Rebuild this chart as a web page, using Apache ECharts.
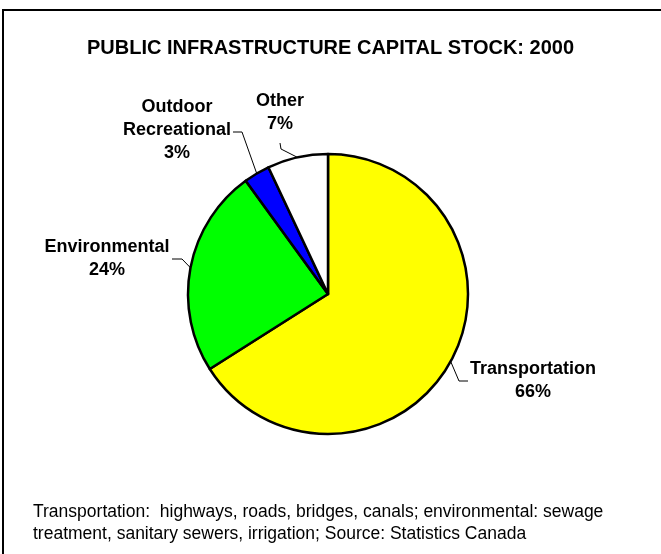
<!DOCTYPE html>
<html>
<head>
<meta charset="utf-8">
<script src="https://cdn.jsdelivr.net/npm/echarts@6/dist/echarts.min.js"></script>
<style>
  html, body { margin: 0; padding: 0; background: #ffffff; }
  #chart { width: 661px; height: 554px; }
</style>
</head>
<body>
<div id="chart"></div>
<script>
// Share of public infrastructure capital stock by asset type, 2000 (per cent)
const categories = ['Transportation', 'Environmental', 'Outdoor\nRecreational', 'Other'];
const shares = [66, 24, 3, 7];
const sliceColors = ['#ffff00', '#00ff00', '#0000ff', '#ffffff'];

const titleText = 'PUBLIC INFRASTRUCTURE CAPITAL STOCK: 2000';
const noteText = 'Transportation:  highways, roads, bridges, canals; environmental: sewage\n' +
                 'treatment, sanitary sewers, irrigation; Source: Statistics Canada';

// Pie geometry (pixels)
const PIE_CENTER = [328, 294];
const PIE_RADIUS = 140;

// Label block centre, leader-line elbow and leader-line end,
// given as offsets from the pie centre
const labelPlacement = [
  { label: [205, 87],    elbow: [131, 87],    end: [140, 87] },
  { label: [-221, -35],  elbow: [-146, -35],  end: [-156, -35] },
  { label: [-151, -164], elbow: [-86, -162],  end: [-95, -162] },
  { label: [-48, -181],  elbow: [-47, -145],  end: [-48, -151] }
];

// Mid-angle edge point of a slice, used if the library gives no line points
function sliceEdgeMid(index) {
  const total = shares.reduce((a, b) => a + b, 0);
  let before = 0;
  for (let i = 0; i < index; i++) before += shares[i];
  const frac = (before + shares[index] / 2) / total;
  const ang = frac * Math.PI * 2;
  return [PIE_CENTER[0] + PIE_RADIUS * Math.sin(ang), PIE_CENTER[1] - PIE_RADIUS * Math.cos(ang)];
}

const chart = echarts.init(document.getElementById('chart'), null, { renderer: 'canvas' });

chart.setOption({
  animation: false,
  backgroundColor: '#ffffff',
  title: [
    {
      text: titleText,
      left: 'center',
      top: 33,
      textStyle: {
        fontFamily: 'Liberation Sans',
        fontSize: 20,
        fontWeight: 'bold',
        color: '#000000'
      }
    },
    {
      text: noteText,
      left: 28,
      top: 496,
      textStyle: {
        fontFamily: 'Liberation Sans',
        fontSize: 17.5,
        fontWeight: 'normal',
        color: '#000000',
        lineHeight: 22
      }
    }
  ],
  graphic: [
    {
      type: 'rect',
      silent: true,
      shape: { x: 3, y: 10, width: 720, height: 620 },
      style: { fill: 'none', stroke: '#000000', lineWidth: 2 }
    }
  ],
  series: [
    {
      type: 'pie',
      center: PIE_CENTER,
      radius: PIE_RADIUS,
      startAngle: 90,
      clockwise: true,
      avoidLabelOverlap: false,
      data: categories.map((name, i) => ({
        name: name,
        value: shares[i],
        itemStyle: { color: sliceColors[i] }
      })),
      itemStyle: { borderColor: '#000000', borderWidth: 2.5 },
      emphasis: { disabled: true },
      label: {
        show: true,
        position: 'outside',
        formatter: '{b}\n{c}%',
        fontFamily: 'Liberation Sans',
        fontSize: 18,
        fontWeight: 'bold',
        color: '#000000',
        lineHeight: 23,
        align: 'center'
      },
      labelLine: {
        show: true,
        length: 10,
        length2: 10,
        smooth: false,
        lineStyle: { color: '#000000', width: 1 }
      },
      labelLayout: function (p) {
        const pl = labelPlacement[p.dataIndex];
        const cx = PIE_CENTER[0], cy = PIE_CENTER[1];
        const start = (p.labelLinePoints && p.labelLinePoints[0]) || sliceEdgeMid(p.dataIndex);
        return {
          x: cx + pl.label[0],
          y: cy + pl.label[1],
          align: 'center',
          verticalAlign: 'middle',
          labelLinePoints: [
            start,
            [cx + pl.elbow[0], cy + pl.elbow[1]],
            [cx + pl.end[0], cy + pl.end[1]]
          ]
        };
      }
    }
  ]
});
</script>
</body>
</html>
